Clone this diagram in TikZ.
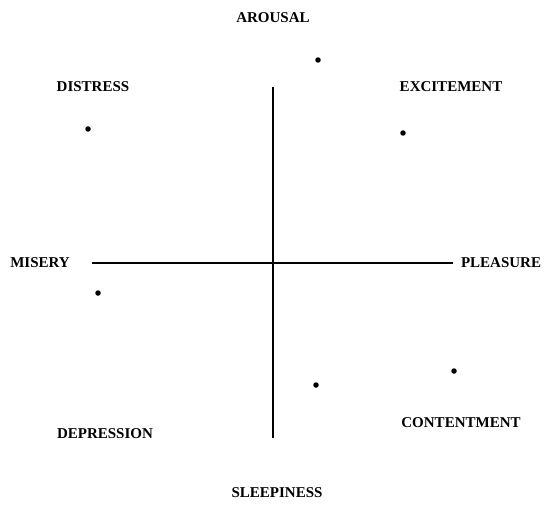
\documentclass[tikz,border=0pt]{standalone}
\usepackage{fontspec}
\setmainfont{Liberation Serif}
\usepackage{tikz}

\begin{document}
\begin{tikzpicture}[x=1pt,y=1pt,line width=1.7pt,font=\fontsize{15}{18}\selectfont\bfseries]
\useasboundingbox (0,0) rectangle (545,504);
\tikzset{pt/.style={circle,fill,inner sep=0pt,minimum size=5.5pt}}
% axes
\coordinate (top) at (273,417);
\coordinate (bot) at (273,66);
\coordinate (lft) at (92,241);
\coordinate (rgt) at (453,241);
\draw (top)--(bot);
\draw (lft)--(rgt);
% labels
\node (arousal) at (273,486) {AROUSAL};
\node (distress) at (93,417) {DISTRESS};
\node (excite) at (451,417) {EXCITEMENT};
\node (misery) at (40,241) {MISERY};
\node (pleasure) at (501,241) {PLEASURE};
\node (depress) at (105,70) {DEPRESSION};
\node (content) at (461,81) {CONTENTMENT};
\node (sleepy) at (277,11) {SLEEPINESS};
% points
\node[pt] (p1) at (318,444) {};
\node[pt] (p2) at (88,375) {};
\node[pt] (p3) at (403,371) {};
\node[pt] (p4) at (98,211) {};
\node[pt] (p5) at (316,119) {};
\node[pt] (p6) at (454,133) {};
\end{tikzpicture}
\end{document}
